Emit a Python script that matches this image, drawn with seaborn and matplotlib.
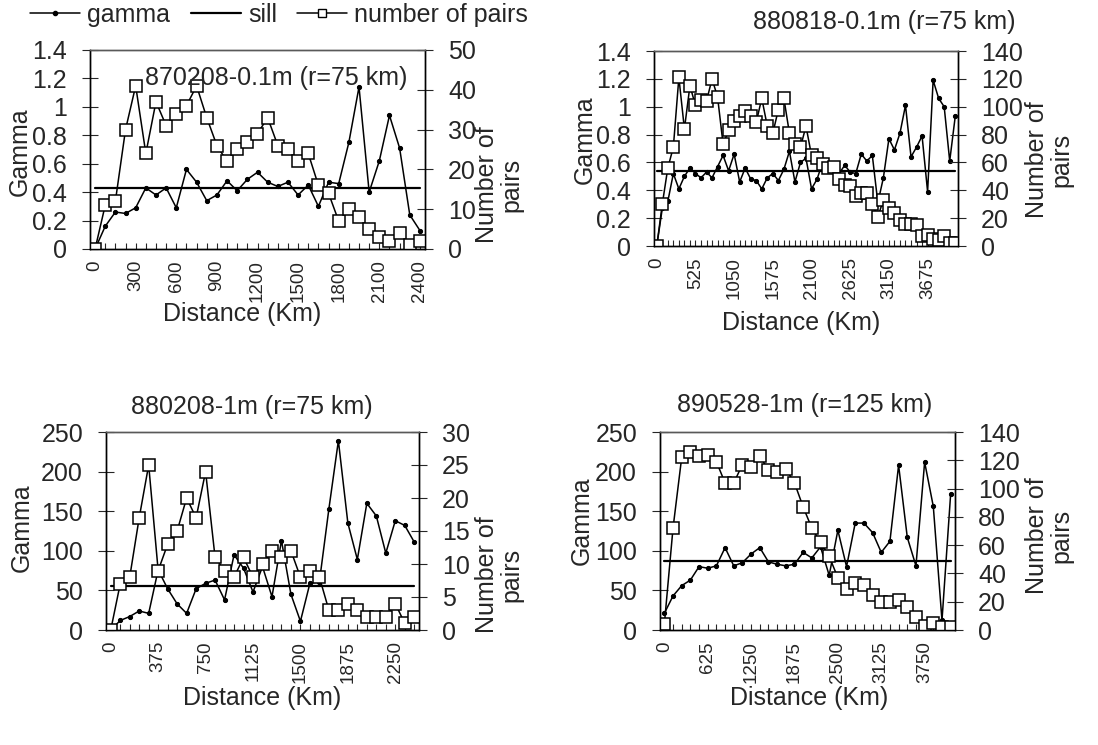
import numpy as np
import pandas as pd
import seaborn as sns
import matplotlib.pyplot as plt
from matplotlib.lines import Line2D
from matplotlib.ticker import FuncFormatter

sns.set_style("ticks")
plt.rcParams['font.family'] = ['Liberation Sans', 'DejaVu Sans']
plt.rcParams['font.size'] = 18

W, H = 1098, 745

# 870208-0.1m (lag 75 km)
dist_870208 = [0, 75, 150, 225, 300, 375, 450, 525, 600, 675, 750, 825, 900, 975, 1050, 1125,
               1200, 1275, 1350, 1425, 1500, 1575, 1650, 1725, 1800, 1875, 1950, 2025, 2100,
               2175, 2250, 2325, 2400]
gamma_870208 = [0, 0.16, 0.26, 0.25, 0.29, 0.43, 0.38, 0.43, 0.29, 0.56, 0.47, 0.34, 0.38, 0.48,
                0.41, 0.49, 0.54, 0.47, 0.44, 0.47, 0.38, 0.45, 0.30, 0.47, 0.46, 0.75, 1.14,
                0.40, 0.62, 0.94, 0.71, 0.24, 0.13]
pairs_870208 = [0, 11, 12, 30, 41, 24, 37, 31, 34, 36, 41, 33, 26, 22, 25, 27, 29, 33, 26, 25,
                22, 24, 16, 14, 7, 10, 8, 5, 3, 2, 4, 1, 2]
sill_870208 = 0.43
xlab_870208 = [0, 300, 600, 900, 1200, 1500, 1800, 2100, 2400]

# 880818-0.1m (lag 75 km)
dist_880818 = [0, 75, 150, 225, 300, 375, 450, 525, 600, 675, 750, 825, 900, 975, 1050, 1125,
               1200, 1275, 1350, 1425, 1500, 1575, 1650, 1725, 1800, 1875, 1950, 2025, 2100,
               2175, 2250, 2325, 2400, 2475, 2550, 2625, 2700, 2775, 2850, 2925, 3000, 3075,
               3150, 3225, 3300, 3375, 3450, 3525, 3600, 3675, 3750, 3825, 3900, 3975, 4050]
gamma_880818 = [0, 0.27, 0.32, 0.52, 0.41, 0.50, 0.56, 0.52, 0.49, 0.53, 0.49, 0.57, 0.65, 0.54,
                0.66, 0.46, 0.56, 0.48, 0.47, 0.41, 0.49, 0.52, 0.47, 0.55, 0.68, 0.46, 0.60,
                0.63, 0.41, 0.48, 0.60, 0.58, 0.54, 0.52, 0.58, 0.53, 0.52, 0.66, 0.61, 0.65,
                0.31, 0.49, 0.77, 0.69, 0.81, 1.01, 0.64, 0.71, 0.79, 0.39, 1.19, 1.06, 1.00,
                0.61, 0.93]
pairs_880818 = [0, 30, 56, 71, 121, 84, 115, 101, 105, 104, 120, 107, 73, 83, 90, 93, 97, 93,
                89, 106, 86, 81, 98, 106, 81, 73, 71, 86, 65, 63, 59, 56, 57, 48, 44, 43, 36,
                38, 38, 30, 21, 33, 27, 24, 19, 16, 16, 15, 7, 8, 5, 4, 7, 2, 2]
sill_880818 = 0.54
xlab_880818 = [0, 525, 1050, 1575, 2100, 2625, 3150, 3675]

# 880208-1m (lag 75 km)
dist_880208 = [0, 75, 150, 225, 300, 375, 450, 525, 600, 675, 750, 825, 900, 975, 1050, 1125,
               1200, 1275, 1350, 1425, 1500, 1575, 1650, 1725, 1800, 1875, 1950, 2025, 2100,
               2175, 2250, 2325, 2400]
gamma_880208 = [0, 12, 17, 24, 21, 76, 52, 33, 21, 52, 59, 63, 38, 95, 78, 48, 80, 42, 113, 45,
                11, 59, 61, 153, 239, 135, 89, 160, 144, 97, 138, 132, 111]
pairs_880208 = [0, 7, 8, 17, 25, 9, 13, 15, 20, 17, 24, 11, 9, 8, 11, 8, 10, 12, 11, 12, 8, 9,
                8, 3, 3, 4, 3, 2, 2, 2, 4, 1, 2]
sill_880208 = 55
xlab_880208 = [0, 375, 750, 1125, 1500, 1875, 2250]

# 890528-1m (lag 125 km)
dist_890528 = [0, 125, 250, 375, 500, 625, 750, 875, 1000, 1125, 1250, 1375, 1500, 1625, 1750,
               1875, 2000, 2125, 2250, 2375, 2500, 2625, 2750, 2875, 3000, 3125, 3250, 3375,
               3500, 3625, 3750, 3875, 4000, 4125]
gamma_890528 = [21, 43, 56, 63, 80, 78, 81, 104, 81, 85, 96, 104, 86, 83, 81, 83, 98, 91, 105,
                69, 126, 80, 135, 135, 123, 98, 112, 208, 117, 81, 212, 156, 12, 172]
pairs_890528 = [4, 72, 122, 126, 123, 124, 119, 104, 104, 117, 115, 123, 113, 112, 114, 104, 87,
                72, 62, 52, 37, 29, 33, 32, 25, 20, 20, 21, 16, 9, 3, 5, 2, 2]
sill_890528 = 87
xlab_890528 = [0, 625, 1250, 1875, 2500, 3125, 3750]

fig = plt.figure(figsize=(W / 100, H / 100), dpi=100)


def panel(box, dist, gamma, pairs, sill, gmax, gstep, pmax, pstep, xlabs, lag):
    l, t, r, b = box
    ax = fig.add_axes([l / W, 1 - b / H, (r - l) / W, (b - t) / H])
    df = pd.DataFrame({"dist": dist, "gamma": gamma, "pairs": pairs})
    df["sill"] = sill
    sns.lineplot(data=df, x="dist", y="sill", ax=ax, color="black", lw=1.6)
    sns.lineplot(data=df, x="dist", y="gamma", ax=ax, color="black", lw=1.1,
                 marker="o", markersize=3, markeredgecolor="black")
    ax2 = ax.twinx()
    sns.lineplot(data=df, x="dist", y="pairs", ax=ax2, color="black", lw=1.1,
                 marker="s", markersize=8, markerfacecolor="white",
                 markeredgecolor="black", markeredgewidth=1.1)
    ax.set_xlim(-lag / 2, dist[-1] + lag / 2)
    ax.set_ylim(0, gmax)
    ax2.set_ylim(0, pmax)
    ax.set_yticks(np.arange(0, gmax + gstep / 2, gstep))
    ax2.set_yticks(np.arange(0, pmax + pstep / 2, pstep))
    ax.yaxis.set_major_formatter(FuncFormatter(lambda v, p: f"{v:g}"))
    ax2.yaxis.set_major_formatter(FuncFormatter(lambda v, p: f"{v:g}"))
    ax.set_xticks(xlabs)
    ax.set_xticks(dist, minor=True)
    ax.set_xticklabels([str(v) for v in xlabs], rotation=90, fontsize=13.5)
    ax.tick_params(axis="x", which="both", direction="in", length=4, width=0.8, pad=8)
    ax.tick_params(axis="y", direction="inout", length=11, width=0.8, pad=11)
    ax2.tick_params(axis="y", direction="inout", length=11, width=0.8, pad=11)
    for a in (ax, ax2):
        a.set_xlabel("")
        a.set_ylabel("")
        for s in a.spines.values():
            s.set_linewidth(1.0)
            s.set_color("black")
        a.spines["top"].set_color("0.35")
    return ax, ax2


panel((90, 50, 425, 249), dist_870208, gamma_870208, pairs_870208, sill_870208,
      1.4, 0.2, 50, 10, xlab_870208, 75)
panel((654, 51, 958, 246), dist_880818, gamma_880818, pairs_880818, sill_880818,
      1.4, 0.2, 140, 20, xlab_880818, 75)
panel((106, 432, 419, 630), dist_880208, gamma_880208, pairs_880208, sill_880208,
      250, 50, 30, 5, xlab_880208, 75)
panel((660, 432, 955, 630), dist_890528, gamma_890528, pairs_890528, sill_890528,
      250, 50, 140, 20, xlab_890528, 125)


def label(x, y, s, rot=0):
    fig.text(x / W, 1 - y / H, s, ha="center", va="center", rotation=rot,
             fontsize=18, linespacing=1.0)


# titles
label(276, 78, "870208-0.1m (r=75 km)")
label(884, 22, "880818-0.1m (r=75 km)")
label(252, 407, "880208-1m (r=75 km)")
label(805, 405, "890528-1m (r=125 km)")

# axis labels
for x, y in [(242, 314), (801, 323), (262, 698), (809, 698)]:
    label(x, y, "Distance (Km)")
for x, y in [(20, 152), (585, 140), (22, 528), (582, 521)]:
    label(x, y, "Gamma", 90)
for x, y in [(499, 185), (1049, 160), (499, 575), (1049, 536)]:
    label(x, y, "Number of\npairs", 90)

handles = [
    Line2D([], [], color="black", lw=1.1, marker="o", markersize=3),
    Line2D([], [], color="black", lw=1.6),
    Line2D([], [], color="black", lw=1.1, marker="s", markersize=6, markerfacecolor="white"),
]
fig.legend(handles, ["gamma", "sill", "number of pairs"], loc="upper left",
           bbox_to_anchor=(30 / W, 1 - 3 / H), ncol=3, frameon=False, fontsize=18,
           handlelength=2.0, handletextpad=0.3, columnspacing=0.8,
           borderaxespad=0, borderpad=0)

fig.savefig("out.png", dpi=100)
